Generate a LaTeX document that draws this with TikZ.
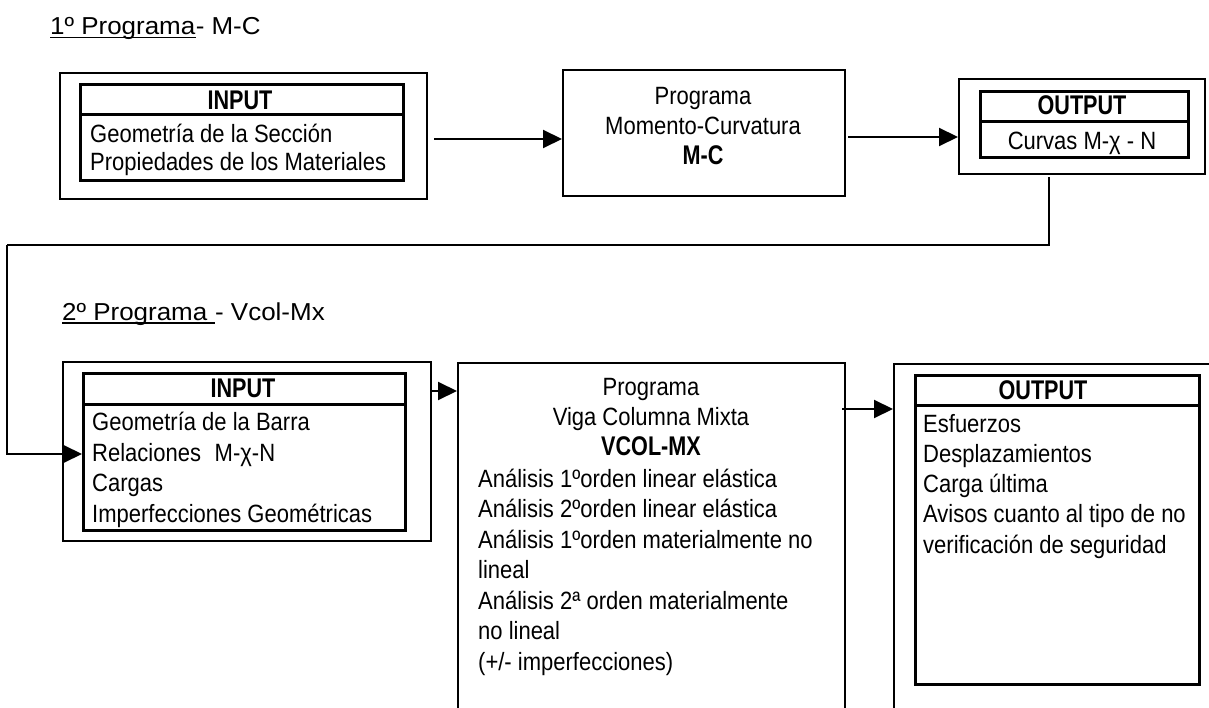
\documentclass[tikz,border=0pt]{standalone}
\usepackage{fontspec}
\setmainfont{Liberation Sans}
\newfontfamily\bodyf[FakeStretch=0.88]{Liberation Sans}
\newfontfamily\hdrf[FakeStretch=0.8]{Liberation Sans}
\newfontfamily\titf[FakeStretch=1.06]{Liberation Sans}
\usetikzlibrary{arrows.meta,calc}
\begin{document}
\begin{tikzpicture}[x=1pt,y=-1pt,
  outerbox/.style={draw, line width=2pt, inner sep=0pt, anchor=north west},
  innerbox/.style={draw, line width=3pt, inner sep=0pt, anchor=north west},
  hline/.style={line width=3pt},
  conn/.style={line width=2pt},
  arr/.style={conn, -{Triangle[length=19pt,width=18pt]}},
  txt/.style={inner sep=0pt, anchor=base west, font=\bodyf\fontsize{25}{30}\selectfont},
  ctxt/.style={inner sep=0pt, anchor=base, font=\bodyf\fontsize{25}{30}\selectfont},
  hdr/.style={inner sep=0pt, anchor=base, font=\hdrf\bfseries\fontsize{27}{32}\selectfont},
  tit/.style={inner sep=0pt, anchor=base west, font=\titf\fontsize{24.5}{29}\selectfont},
  uline/.style={line width=1.5pt}
]
\useasboundingbox (0,0) rectangle (1209,708);
\clip (0,0) rectangle (1209,708);

% ---------- titles ----------
\node[tit] (t1a) at (50,35) {1º Programa};
\node[tit] (t1b) at (t1a.base east) {- M-C};
\draw[uline] ($(t1a.base west)+(0,2.5)$) -- ($(t1a.base east)+(0,2.5)$);

\node[tit] (t2a) at (62,320) {2º Programa\hspace*{0.3em}\null};
\node[tit] (t2b) at (t2a.base east) {- Vcol-Mx};
\draw[uline] ($(t2a.base west)+(0,3)$) -- ($(t2a.base east)+(0,3)$);

% ---------- top row ----------
\node[outerbox, minimum width=367pt, minimum height=126pt] (b1) at (59,72) {};
\node[innerbox, minimum width=323pt, minimum height=96pt] (i1) at (79,83) {};
\draw[hline] (i1.west |- 0,115) -- (i1.east |- 0,115);
\node[hdr] (h1) at (240,110) {INPUT};
\node[txt] (l1a) at (90,143) {Geometría de la Sección};
\node[txt] (l1b) at (90,171) {Propiedades de los Materiales};

\node[outerbox, minimum width=282pt, minimum height=126pt] (b2) at (562,69) {};
\node[ctxt] (p2a) at (703,105) {Programa};
\node[ctxt] (p2b) at (703,135) {Momento-Curvatura};
\node[hdr]  (p2c) at (703,165) {M-C};

\node[outerbox, minimum width=246pt, minimum height=95pt] (b3) at (958,78) {};
\node[innerbox, minimum width=208pt, minimum height=66pt] (i3) at (979,90) {};
\draw[hline] (i3.west |- 0,122) -- (i3.east |- 0,122);
\node[hdr] (h3) at (1082,115) {OUTPUT};
\node[ctxt] (c3) at (1082,150) {Curvas M-χ - N};

% ---------- bottom row ----------
\node[outerbox, minimum width=368pt, minimum height=179pt] (b4) at (62,361) {};
\node[innerbox, minimum width=322pt, minimum height=157pt] (i4) at (82,372) {};
\draw[hline] (i4.west |- 0,404) -- (i4.east |- 0,404);
\node[hdr] (h4) at (243,397) {INPUT};
\node[txt] (l4a) at (92,430) {Geometría de la Barra};
\node[txt] (l4b) at (92,461) {Relaciones\hspace{0.55em}M-χ-N};
\node[txt] (l4c) at (92,491) {Cargas};
\node[txt] (l4d) at (92,522) {Imperfecciones Geométricas};

\node[outerbox, minimum width=387pt, minimum height=420pt] (b5) at (457,362) {};
\node[ctxt] (p5a) at (651,395) {Programa};
\node[ctxt] (p5b) at (651,425) {Viga Columna Mixta};
\node[hdr]  (p5c) at (651,455) {VCOL-MX};
\foreach \t [count=\i from 0] in {Análisis 1ºorden linear elástica,
  Análisis 2ºorden linear elástica,
  Análisis 1ºorden materialmente no,
  lineal,
  Análisis 2ª orden materialmente,
  no lineal,
  (+/- imperfecciones)}
  \node[txt] (v\i) at ({478},{487+30.5*\i}) {\t};

\node[outerbox, minimum width=400pt, minimum height=420pt] (b6) at (893,363) {};
\node[innerbox, minimum width=284pt, minimum height=309pt] (i6) at (914,374) {};
\draw[hline] (i6.west |- 0,405) -- (i6.east |- 0,405);
\node[hdr] (h6) at (1043,399) {OUTPUT};
\foreach \t [count=\i from 0] in {Esfuerzos,
  Desplazamientos,
  Carga última,
  Avisos cuanto al tipo de no,
  verificación de seguridad}
  \node[txt] (o\i) at ({923},{432+30.3*\i}) {\t};

% ---------- connectors ----------
\coordinate (a1) at (434,139);
\draw[arr] (a1) -- (a1 -| b2.west);
\coordinate (a2) at (848,137);
\draw[arr] (a2) -- (a2 -| b3.west);
\coordinate (f1) at (1049,177);
\coordinate (f2) at (7,245);
\draw[conn] (f1) |- (f2);
\draw[arr] (f2) |- (i4.west |- 0,454);
\coordinate (a3) at (431,391);
\draw[arr] (a3) -- (a3 -| b5.west);
\coordinate (a4) at (842,409);
\draw[arr] (a4) -- (a4 -| b6.west);
\end{tikzpicture}
\end{document}
